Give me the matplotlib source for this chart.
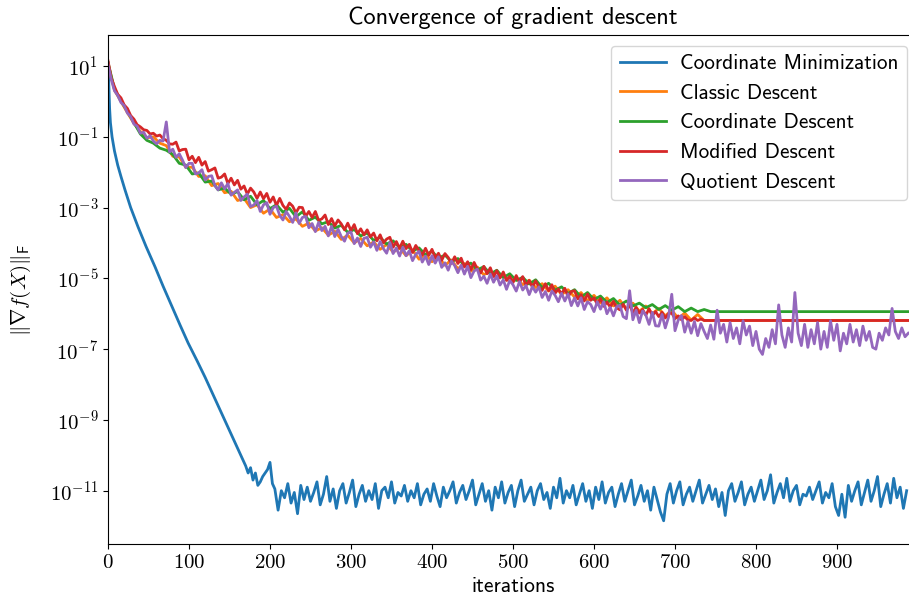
import numpy as np
import matplotlib
matplotlib.use("Agg")
import matplotlib.pyplot as plt
from matplotlib.ticker import NullLocator

# values are log10 of the gradient norm
# coordinate minimization: smooth drop, then a noisy floor
cm_head_iter = [0, 1, 2, 3, 5, 8, 12, 16, 21, 28, 37, 47, 58, 68, 79, 89, 99, 110,
                120, 130, 140, 150, 160, 166, 170, 173, 176, 179, 182, 185, 188,
                191, 194, 197, 200, 203]
cm_head_log = [1.1, 0.5, -0.2, -0.6, -1.0, -1.4, -1.8, -2.12, -2.5, -3.0, -3.54, -4.1,
               -4.67, -5.22, -5.8, -6.32, -6.83, -7.33, -7.8, -8.3, -8.8, -9.3, -9.8,
               -10.1, -10.3, -10.5, -10.35, -10.7, -10.5, -10.85, -10.75, -10.6,
               -10.5, -10.4, -10.2, -10.8]
cm_floor_start, cm_floor_step = 206, 4
cm_floor_log = [
    -10.95, -11.55, -11.0, -11.2, -10.8, -11.35, -11.05, -11.65, -10.85, -11.25,
    -10.9, -11.3, -11.05, -10.75, -11.4, -11.1, -10.6, -11.3, -10.95, -11.5,
    -11.0, -10.8, -11.35, -11.05, -10.7, -11.45, -11.1, -10.85, -11.3, -11.0,
    -11.25, -10.8, -11.5, -11.0, -10.9, -11.2, -10.75, -11.35, -11.05, -11.15,
    -10.85, -11.3, -11.0, -11.2, -10.8, -11.4, -11.1, -10.95, -11.3, -10.8,
    -11.15, -11.45, -10.9, -11.2, -11.0, -10.75, -11.35, -11.05, -10.85, -11.25,
    -11.0, -10.7, -11.4, -11.1, -10.8, -11.3, -11.0, -11.55, -10.9, -11.2,
    -10.75, -11.35, -11.05, -10.85, -11.45, -11.0, -10.7, -11.3, -11.1, -10.9,
    -11.4, -11.0, -10.8, -11.25, -11.05, -11.5, -10.9, -11.2, -10.65, -11.35,
    -11.0, -11.2, -10.85, -11.4, -11.1, -10.8, -11.3, -11.0, -11.5, -10.9,
    -11.25, -10.75, -11.35, -11.05, -10.9, -11.45, -11.1, -10.8, -11.3, -11.0,
    -10.7, -11.4, -11.15, -10.85, -11.3, -11.0, -11.55, -10.9, -11.25, -11.6,
    -11.85, -11.1, -10.8, -11.35, -11.0, -10.75, -11.4, -11.1, -10.9, -11.3,
    -11.0, -10.7, -11.35, -11.1, -10.85, -11.25, -10.95, -11.45, -11.05, -11.7,
    -11.0, -10.8, -11.3, -11.05, -10.75, -11.4, -11.1, -10.9, -11.3, -11.0,
    -10.7, -11.25, -11.0, -10.55, -11.35, -11.05, -10.8, -11.2, -10.65, -11.3,
    -11.0, -10.85, -11.4, -11.1, -11.15, -10.9, -11.25, -11.0, -10.75, -11.35,
    -11.05, -11.2, -10.8, -11.45, -11.7, -11.1, -11.75, -10.85, -11.3, -11.0,
    -10.75, -11.4, -11.05, -10.7, -11.3, -11.0, -10.6, -11.45, -11.1, -10.8,
    -11.35, -10.65, -11.2, -10.9, -11.5, -11.0,
]

# classic and coordinate descent, every 8 iterations up to 744
coarse_step = 8
classic_log = [
    1.08, 0.32, 0.0, -0.32, -0.62, -0.85, -1.03, -1.00, -1.18, -1.25,
    -1.55, -1.57, -1.86, -1.86, -2.12, -2.10, -2.38, -2.32, -2.58, -2.54,
    -2.80, -2.74, -3.00, -2.92, -3.16, -3.04, -3.28, -3.20, -3.40, -3.32,
    -3.53, -3.44, -3.66, -3.57, -3.78, -3.67, -3.90, -3.78, -4.00, -3.87,
    -4.08, -3.97, -4.18, -4.04, -4.26, -4.14, -4.36, -4.20, -4.46, -4.32,
    -4.53, -4.40, -4.63, -4.48, -4.73, -4.58, -4.80, -4.68, -4.90, -4.78,
    -5.00, -4.88, -5.10, -4.98, -5.18, -5.05, -5.26, -5.15, -5.36, -5.22,
    -5.46, -5.32, -5.53, -5.40, -5.63, -5.48, -5.70, -5.55, -5.78, -5.62,
    -5.86, -5.70, -5.93, -5.78, -6.00, -5.85, -6.06, -5.90, -6.13, -5.98,
    -6.18, -6.02, -6.19, -6.19,
]
coord_log = [
    1.10, 0.35, 0.02, -0.28, -0.60, -0.92, -1.10, -1.18, -1.32, -1.38,
    -1.50, -1.75, -1.80, -2.05, -2.02, -2.28, -2.25, -2.50, -2.45, -2.62,
    -2.55, -2.78, -2.68, -2.92, -2.80, -3.03, -2.92, -3.13, -3.02, -3.26,
    -3.12, -3.36, -3.27, -3.46, -3.40, -3.58, -3.50, -3.70, -3.62, -3.80,
    -3.72, -3.93, -3.84, -4.03, -3.94, -4.13, -4.04, -4.23, -4.14, -4.33,
    -4.24, -4.43, -4.34, -4.53, -4.44, -4.63, -4.57, -4.76, -4.67, -4.88,
    -4.77, -4.98, -4.87, -5.06, -4.97, -5.16, -5.04, -5.26, -5.14, -5.33,
    -5.24, -5.43, -5.32, -5.53, -5.40, -5.60, -5.50, -5.68, -5.57, -5.76,
    -5.64, -5.78, -5.70, -5.83, -5.74, -5.88, -5.77, -5.90, -5.80, -5.94,
    -5.84, -5.94, -5.88, -5.94,
]
# modified and quotient descent, every 4 iterations up to 748
fine_step = 4
modified_log = [
    1.15, 0.66, 0.42, 0.20, 0.10, -0.10, -0.20, -0.40, -0.50, -0.66,
    -0.72, -0.80, -0.82, -0.92, -0.90, -0.98, -0.95, -1.05, -1.10, -1.20,
    -1.21, -1.15, -1.40, -1.36, -1.35, -1.65, -1.55, -1.73, -1.58, -1.80,
    -1.70, -1.97, -1.93, -1.88, -2.17, -2.14, -2.05, -2.32, -2.17, -2.36,
    -2.23, -2.48, -2.39, -2.62, -2.45, -2.56, -2.74, -2.56, -2.75, -2.60,
    -2.85, -2.70, -2.94, -2.74, -2.94, -3.05, -2.87, -2.96, -3.15, -2.99,
    -3.00, -3.25, -3.11, -3.28, -3.11, -3.36, -3.32, -3.21, -3.48, -3.31,
    -3.52, -3.35, -3.46, -3.63, -3.44, -3.65, -3.48, -3.74, -3.60, -3.77,
    -3.63, -3.83, -3.72, -3.94, -3.77, -4.00, -3.89, -3.84, -4.12, -3.96,
    -4.15, -3.95, -4.16, -4.04, -4.27, -4.07, -4.22, -4.34, -4.15, -4.35,
    -4.18, -4.42, -4.29, -4.49, -4.30, -4.41, -4.58, -4.39, -4.58, -4.43,
    -4.68, -4.53, -4.76, -4.55, -4.74, -4.85, -4.66, -4.87, -4.70, -4.95,
    -4.78, -4.99, -4.82, -5.06, -4.94, -5.12, -4.92, -5.11, -4.95, -5.20,
    -5.06, -5.25, -5.07, -5.24, -5.34, -5.15, -5.35, -5.18, -5.42, -5.30,
    -5.44, -5.28, -5.52, -5.37, -5.35, -5.58, -5.46, -5.64, -5.44, -5.62,
    -5.55, -5.73, -5.57, -5.79, -5.67, -5.81, -5.65, -5.83, -5.89, -5.73,
    -5.90, -5.75, -5.97, -5.82, -5.98, -5.88, -6.04, -5.86, -6.05, -5.94,
    -6.08, -5.96, -6.12, -6.00, -5.98, -6.14, -6.06, -6.17, -6.08, -6.18,
    -6.19, -6.12, -6.19, -6.15, -6.19, -6.19, -6.19, -6.19,
]
quotient_log = [
    1.05, 0.62, 0.30, 0.17, -0.03, -0.12, -0.33, -0.43, -0.64, -0.70,
    -0.90, -0.87, -1.04, -0.97, -1.12, -1.20, -1.10, -1.12, -0.58, -1.43,
    -1.35, -1.58, -1.48, -1.66, -1.87, -1.75, -1.75, -2.05, -2.02, -1.93,
    -2.22, -2.12, -2.10, -2.38, -2.50, -2.30, -2.47, -2.32, -2.65, -2.57,
    -2.50, -2.80, -2.70, -2.62, -2.97, -2.93, -2.80, -3.11, -2.92, -2.86,
    -3.19, -3.00, -2.96, -3.22, -3.35, -3.11, -3.25, -3.42, -3.15, -3.45,
    -3.28, -3.25, -3.57, -3.45, -3.68, -3.42, -3.65, -3.53, -3.80, -3.53,
    -3.82, -3.61, -3.82, -3.95, -3.72, -3.69, -4.02, -3.86, -4.10, -3.87,
    -3.84, -4.12, -3.97, -4.21, -3.96, -4.16, -4.29, -3.99, -4.30, -4.14,
    -4.37, -4.12, -4.36, -4.22, -4.50, -4.32, -4.24, -4.54, -4.37, -4.61,
    -4.36, -4.57, -4.39, -4.69, -4.56, -4.77, -4.51, -4.64, -4.84, -4.63,
    -4.88, -4.66, -4.98, -4.79, -4.74, -5.05, -4.94, -5.14, -4.88, -5.11,
    -4.93, -5.19, -5.04, -5.31, -5.06, -5.18, -5.36, -5.09, -5.33, -5.20,
    -5.46, -5.23, -5.39, -5.24, -5.54, -5.37, -5.62, -5.36, -5.48, -5.66,
    -5.42, -5.64, -5.44, -5.77, -5.55, -5.78, -5.55, -5.88, -5.66, -5.74,
    -5.94, -5.66, -5.87, -5.66, -6.00, -5.82, -6.06, -5.80, -5.76, -6.08,
    -6.14, -5.35, -6.17, -5.90, -6.25, -5.92, -6.04, -6.30, -5.96, -6.34,
    -6.35, -6.02, -6.40, -6.10, -5.45, -6.48, -6.18, -6.05, -6.52, -6.22,
    -6.55, -6.22, -6.62, -6.28, -6.50, -6.70, -6.32, -6.72,
]
# after ~750 three of the runs stall at a constant value
stall_iter = [752, 1000]
classic_stall = [-6.19, -6.19]
coord_stall = [-5.94, -5.94]
modified_stall = [-6.19, -6.19]
# quotient keeps fluctuating
quot_tail_start, quot_tail_step = 752, 4
quotient_tail_log = [
    -5.90, -6.55, -6.30, -6.80, -6.25, -6.70, -6.40, -6.85, -6.20, -6.60,
    -6.35, -6.90, -6.50, -7.00, -7.15, -6.70, -6.95, -6.45, -6.85, -5.75,
    -6.60, -6.95, -6.40, -6.80, -5.40, -6.55, -6.90, -6.30, -6.95, -6.45,
    -6.85, -6.25, -7.00, -6.50, -6.95, -6.20, -6.75, -6.30, -7.05, -6.55,
    -6.85, -6.30, -6.80, -6.45, -6.90, -6.35, -6.75, -6.50, -6.95, -7.00,
    -6.55, -6.75, -6.40, -6.60, -5.85, -6.50, -6.70, -6.40, -6.65, -6.55,
]

labels = ["Coordinate Minimization", "Classic Descent", "Coordinate Descent",
          "Modified Descent", "Quotient Descent"]

plt.rcParams["font.family"] = "cmr10"
plt.rcParams["mathtext.fontset"] = "cm"
plt.rcParams["axes.formatter.use_mathtext"] = True
sans = "cmss10"

fig = plt.figure(figsize=(9.09, 6.10), dpi=100)
# the right spine sits just past the picture's edge
ax = fig.add_axes([0.1188, 0.1082, 0.8911, 0.8344])
lw = 2.0


def steps(vals, start, step):
    return start + np.arange(len(vals)) * step


cm_x = np.concatenate([cm_head_iter, steps(cm_floor_log, cm_floor_start, cm_floor_step)])
cm_y = 10.0 ** np.concatenate([cm_head_log, cm_floor_log])
ax.plot(cm_x, cm_y, color="C0", lw=lw, label=labels[0])

for vals, step, stall, col, lab in [(classic_log, coarse_step, classic_stall, "C1", labels[1]),
                                    (coord_log, coarse_step, coord_stall, "C2", labels[2]),
                                    (modified_log, fine_step, modified_stall, "C3", labels[3])]:
    x = np.concatenate([steps(vals, 0, step), stall_iter])
    y = 10.0 ** np.concatenate([vals, stall])
    ax.plot(x, y, color=col, lw=lw, label=lab)

q_x = np.concatenate([steps(quotient_log, 0, fine_step),
                      steps(quotient_tail_log, quot_tail_start, quot_tail_step)])
q_y = 10.0 ** np.concatenate([quotient_log, quotient_tail_log])
ax.plot(q_x, q_y, color="C4", lw=lw, label=labels[4])

ax.set_yscale("log")
ax.set_xlim(0, 1000)
ax.set_ylim(10 ** -12.506, 10 ** 1.876)
ax.set_yticks([10.0 ** k for k in range(1, -12, -2)])
ax.yaxis.set_minor_locator(NullLocator())
ax.set_xticks(range(0, 901, 100))
ax.tick_params(labelsize=15)

ax.set_title("Convergence of gradient descent", family=sans, fontsize=17.5, pad=8)
ax.set_xlabel("iterations", family=sans, fontsize=15.5)
ax.set_ylabel(r"$\Vert\nabla f(X)\Vert_{\mathsf{F}}$", fontsize=15, labelpad=12)
ax.legend(loc="upper right", prop={"family": sans, "size": 15.3},
          labelspacing=0.5, handlelength=2.2, handletextpad=0.66)

fig.savefig("out.png", dpi=100)
